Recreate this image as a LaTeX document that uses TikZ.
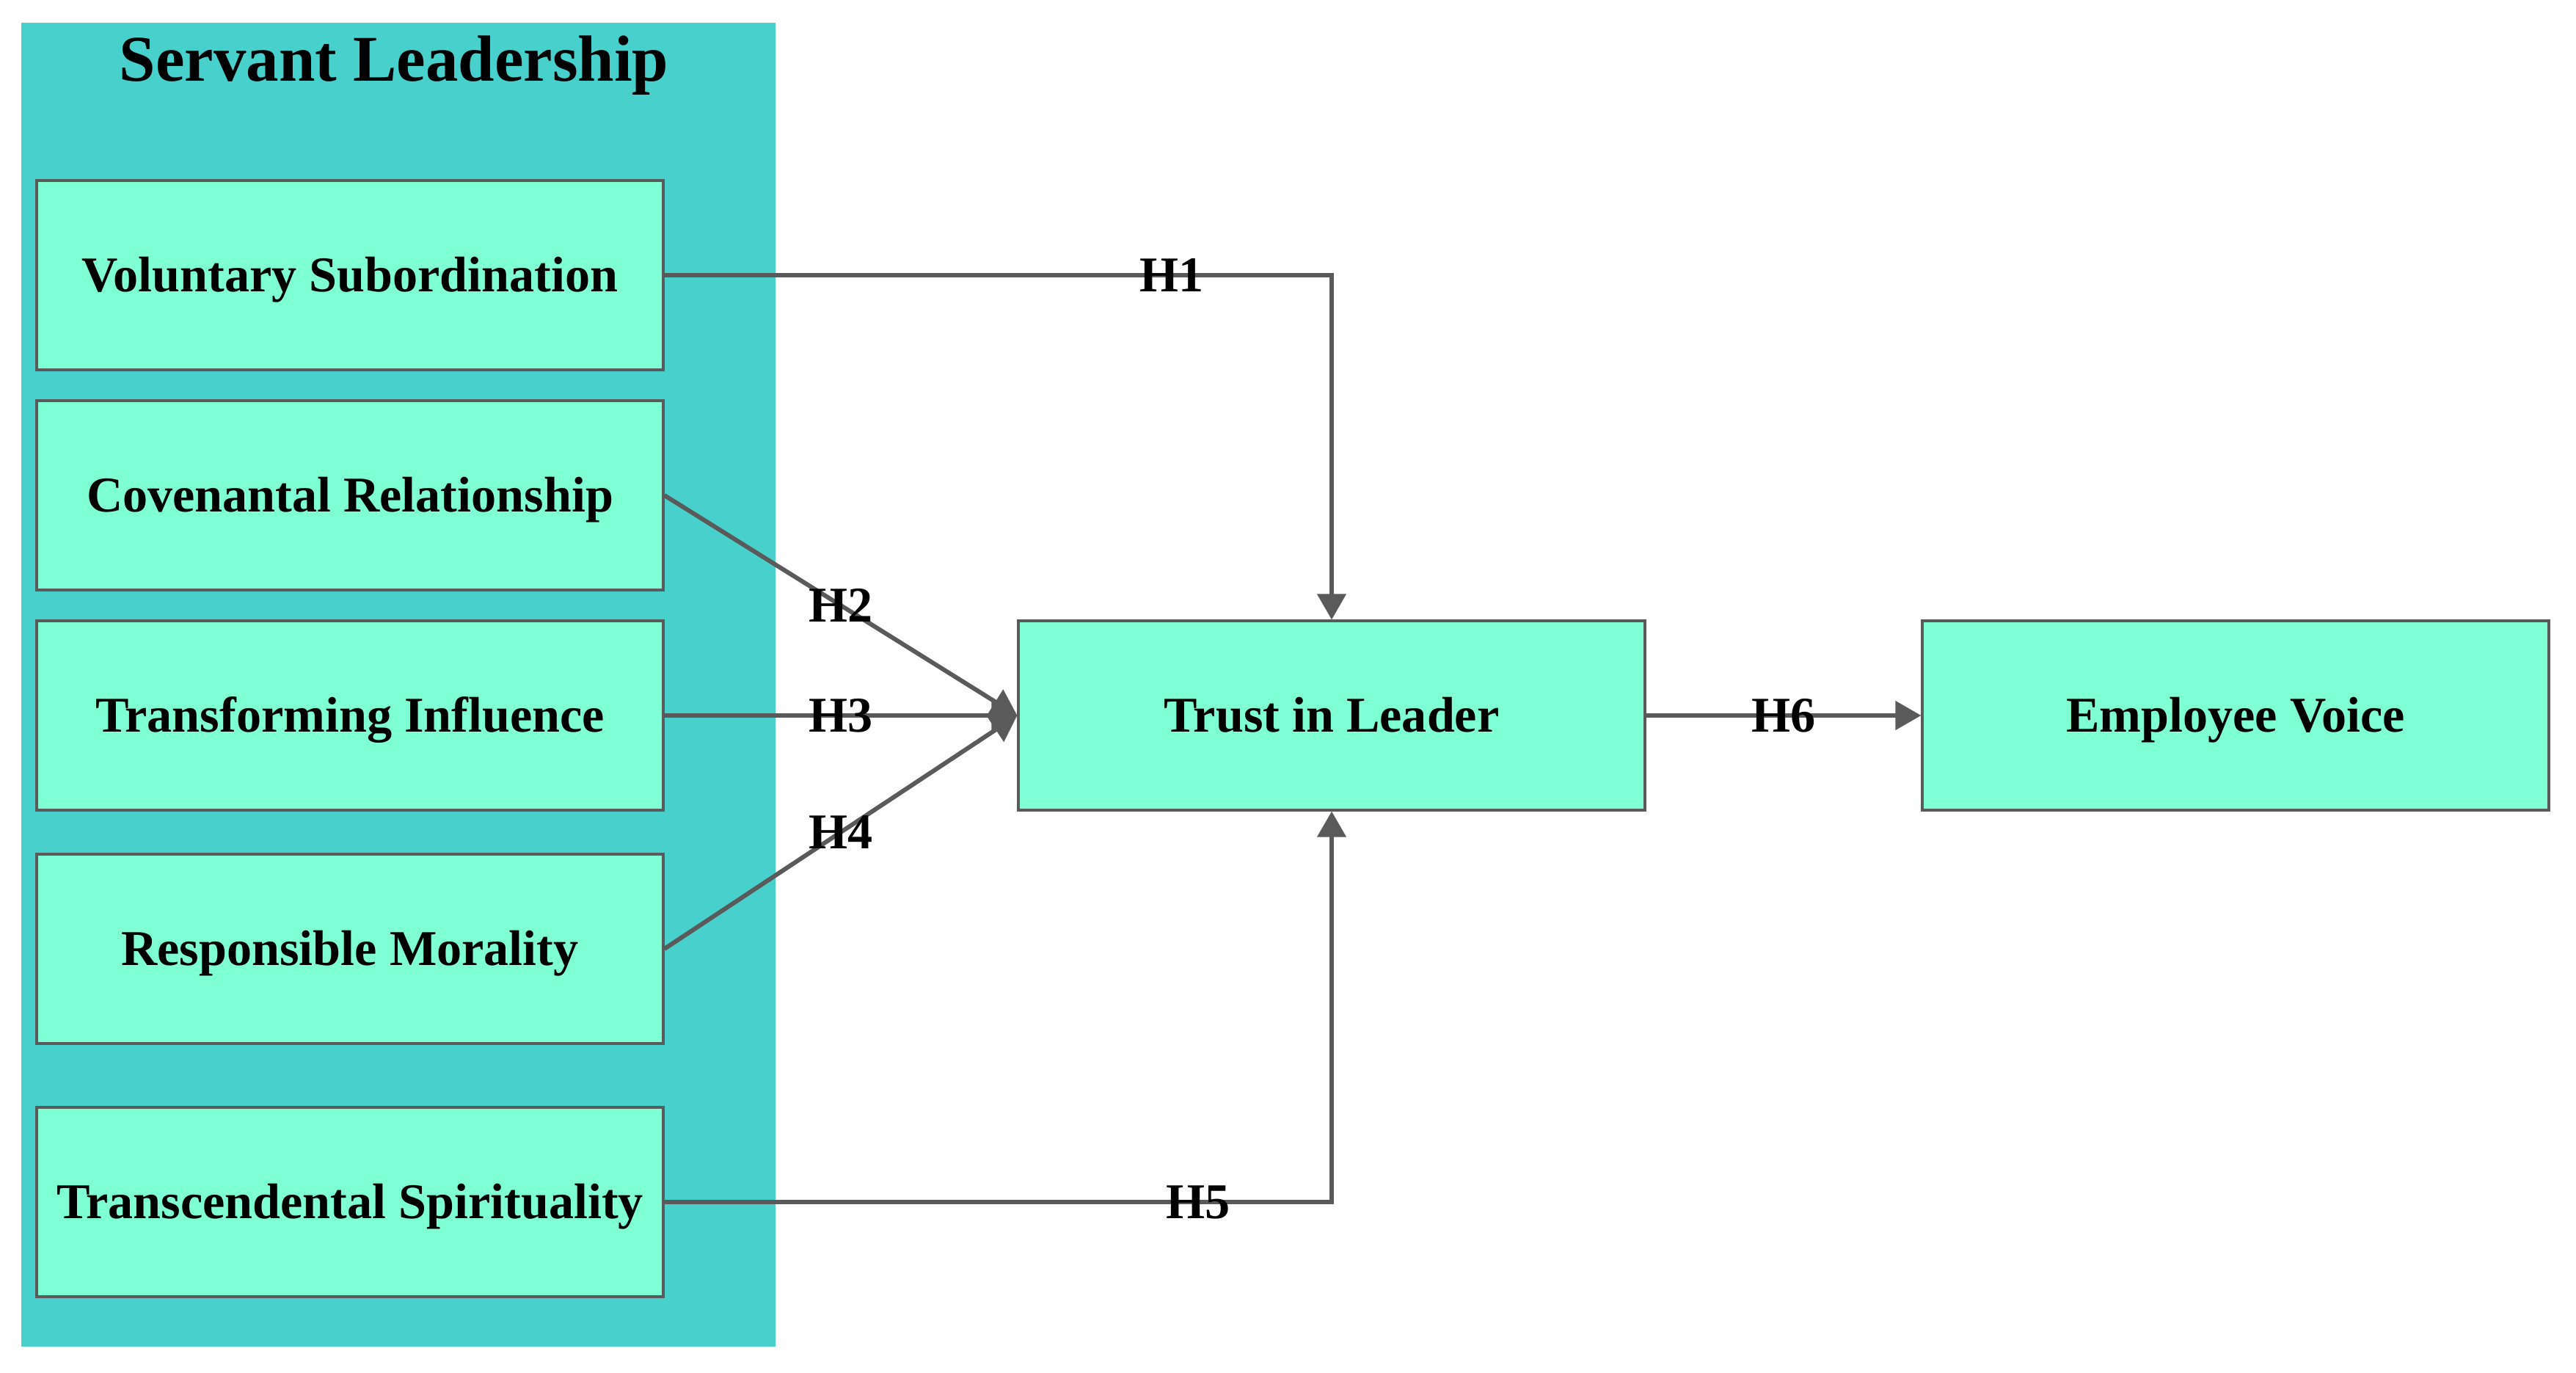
\documentclass[tikz,border=0pt]{standalone}
\usepackage{fontspec}
\setmainfont{Liberation Serif}
\usetikzlibrary{arrows.meta}
\definecolor{panelteal}{HTML}{48D1CC}
\definecolor{boxgreen}{HTML}{7FFFD4}
\definecolor{linegray}{HTML}{5A5A5A}

\begin{document}
\begin{tikzpicture}[
        box/.style={draw=linegray, line width=0.9pt, fill=boxgreen, minimum width=8.54cm, minimum height=2.58cm, inner sep=0pt, font=\fontsize{19.4}{23}\selectfont\bfseries, text height=12.8pt, text depth=0pt},
        hyp/.style={inner sep=0pt, font=\fontsize{19.4}{23}\selectfont\bfseries, text height=12.8pt, text depth=0pt},
        link/.style={draw=linegray, line width=1.7pt, -{Triangle[length=10pt,width=11pt]}}
    ]
        \useasboundingbox (0,0) rectangle (35.11,-18.71);
        \fill[panelteal] (0.29,-0.31) rectangle (10.57,-18.35);
        \node[anchor=base, font=\fontsize{25.3}{30}\selectfont\bfseries] (sl) at (5.37,-1.11) {Servant Leadership};

        \node[box] (a) at (4.77, -3.75) {Voluntary Subordination};
        \node[box] (b) at (4.77, -6.75) {Covenantal Relationship};
        \node[box] (c) at (4.77, -9.75) {Transforming Influence};
        \node[box] (d) at (4.77, -12.93) {Responsible Morality};
        \node[box] (e) at (4.77, -16.38) {Transcendental Spirituality};
        \node[box] (f) at (18.15, -9.75) {Trust in Leader};
        \node[box] (g) at (30.47, -9.75) {Employee Voice};

        \draw[link] (a) -| node[hyp, pos=0.38] (h1) {H1} (f);
        \draw[link] (b.east) -- node[hyp] (h2) {H2} (f.west);
        \draw[link] (c) -- node[hyp] (h3) {H3} (f);
        \draw[link] (d.east) -- node[hyp] (h4) {H4} (f.west);
        \draw[link] (e) -| node[hyp, pos=0.4] (h5) {H5} (f);
        \draw[link] (f) -- node[hyp] (h6) {H6} (g);
    \end{tikzpicture}
\end{document}
